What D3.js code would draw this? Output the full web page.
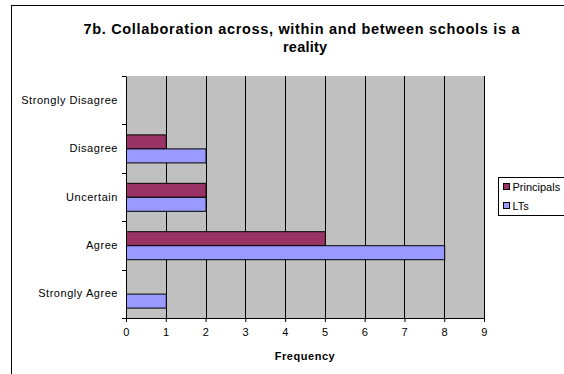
<!DOCTYPE html>
<html>
<head>
<meta charset="utf-8">
<script src="https://cdn.jsdelivr.net/npm/d3@7"></script>
<style>
  body { margin: 0; background: #fff; }
  svg { display: block; font-family: "Liberation Sans", Arial, sans-serif; }
  .lbl { font-size: 11px; letter-spacing: 0.55px; fill: #000; }
  .leg { font-size: 11px; fill: #000; }
</style>
</head>
<body>
<div id="chart"></div>
<script>
const categories = ["Strongly Disagree", "Disagree", "Uncertain", "Agree", "Strongly Agree"];
const seriesNames = ["Principals", "LTs"];
const principals = [0, 1, 2, 5, 0];
const lts = [0, 2, 2, 8, 1];
const xTicks = [0, 1, 2, 3, 4, 5, 6, 7, 8, 9];
const colors = ["#993366", "#9999FF"];

const W = 564, H = 374;
const margin = { top: 76, left: 126, right: 80, bottom: 56 };
const width = 484 - margin.left;
const height = 318 - margin.top;

const svg = d3.select("#chart").append("svg")
  .attr("width", W).attr("height", H);

// outer chart border
svg.append("rect")
  .attr("x", 11.5).attr("y", 5.5)
  .attr("width", 600).attr("height", 400)
  .attr("fill", "none").attr("stroke", "#000");

// title (stretched to match the wider source rendering)
svg.append("text")
  .attr("x", 301.5).attr("y", 33.5)
  .attr("text-anchor", "middle")
  .attr("textLength", 436).attr("lengthAdjust", "spacing")
  .style("font-size", "14.5px").style("font-weight", "bold")
  .text("7b. Collaboration across, within and between schools is a");
svg.append("text")
  .attr("x", 305).attr("y", 51.5)
  .attr("text-anchor", "middle")
  .attr("textLength", 44).attr("lengthAdjust", "spacing")
  .style("font-size", "14.5px").style("font-weight", "bold")
  .text("reality");

const g = svg.append("g").attr("transform", `translate(${margin.left},${margin.top})`);

const x = d3.scaleLinear().domain([0, 9]).range([0, width]);
const y = d3.scaleBand().domain(categories).range([0, height]).paddingInner(0).paddingOuter(0);
const inner = d3.scaleBand().domain(seriesNames).range([y.bandwidth() * 0.21, y.bandwidth() * 0.79]);

g.append("rect")
  .attr("width", width).attr("height", height)
  .attr("fill", "#C0C0C0");

// vertical gridlines
g.selectAll(".grid")
  .data(xTicks.slice(1))
  .enter().append("line")
  .attr("x1", d => Math.round(x(d)) + 0.5).attr("x2", d => Math.round(x(d)) + 0.5)
  .attr("y1", 0).attr("y2", height)
  .attr("stroke", "#000");

const data = categories.map((c, i) => ({ cat: c, values: [principals[i], lts[i]] }));

const groups = g.selectAll(".grp")
  .data(data)
  .enter().append("g")
  .attr("transform", d => `translate(0,${y(d.cat)})`);

groups.selectAll("rect")
  .data(d => d.values.map((v, j) => ({ name: seriesNames[j], v: v, j: j })).filter(e => e.v > 0))
  .enter().append("rect")
  .attr("x", 0.5)
  .attr("y", d => Math.round(inner(d.name)) + 0.5)
  .attr("width", d => x(d.v))
  .attr("height", Math.round(inner.bandwidth()))
  .attr("fill", d => colors[d.j])
  .attr("stroke", "#000");

// axes
const xAxis = g.append("g")
  .attr("transform", `translate(0,${height})`)
  .call(d3.axisBottom(x).tickValues(xTicks).tickSize(4).tickPadding(6));
xAxis.select(".domain").attr("stroke", "#000");
xAxis.selectAll("text").attr("class", "lbl");

const yAxis = g.append("g")
  .call(d3.axisLeft(y).tickSize(0).tickPadding(8).tickSizeOuter(0));
yAxis.selectAll("text").attr("class", "lbl");
xAxis.attr("font-family", null).attr("font-size", null);
yAxis.attr("font-family", null).attr("font-size", null);

// ticks at band boundaries
const bounds = categories.map(c => y(c)).concat([height]);
g.selectAll(".ytick")
  .data(bounds)
  .enter().append("line")
  .attr("x1", -4).attr("x2", 0)
  .attr("y1", d => Math.round(d) + 0.5).attr("y2", d => Math.round(d) + 0.5)
  .attr("stroke", "#000");

// x axis title
svg.append("text")
  .attr("x", 305).attr("y", 360)
  .attr("text-anchor", "middle")
  .attr("class", "lbl")
  .style("font-weight", "bold")
  .text("Frequency");

// legend
const leg = svg.append("g").attr("transform", "translate(498.5,177.5)");
leg.append("rect")
  .attr("width", 80).attr("height", 38)
  .attr("fill", "#fff").attr("stroke", "#000");
seriesNames.forEach((n, i) => {
  leg.append("rect")
    .attr("x", 5).attr("y", 6 + i * 19)
    .attr("width", 6).attr("height", 6)
    .attr("fill", colors[i]).attr("stroke", "#000");
  leg.append("text")
    .attr("x", 14).attr("y", 13 + i * 19)
    .attr("class", "leg")
    .text(n);
});
</script>
</body>
</html>
